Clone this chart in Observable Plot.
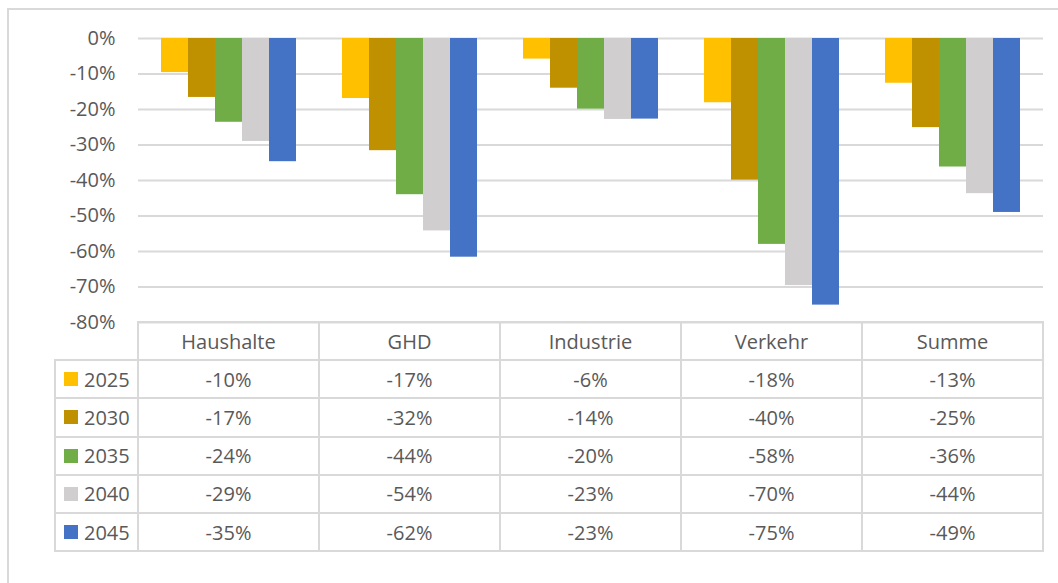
<!DOCTYPE html>
<html>
<head>
<meta charset="utf-8">
<script src="https://cdn.jsdelivr.net/npm/d3@7"></script>
<script src="https://cdn.jsdelivr.net/npm/@observablehq/plot@0.6"></script>
<style>
  html, body { margin: 0; padding: 0; background: #fff; overflow: hidden; }
  #root { position: relative; width: 1058px; height: 583px; font-family: "Open Sans", sans-serif; color: #595959; }
  #root svg { position: absolute; left: 0; top: 0; }
  .frame { position: absolute; left: 7px; top: 8px; width: 1200px; height: 800px;
           border-left: 2px solid #D9D9D9; border-top: 2px solid #D9D9D9; box-sizing: border-box; pointer-events: none; }
  .cell { position: absolute; box-sizing: border-box; border: 2px solid #D9D9D9;
          display: flex; align-items: center; justify-content: center; font-size: 20px; color: #595959; white-space: nowrap; }
  .cell.leg { justify-content: flex-start; padding-left: 8px; }
  .sw { width: 14px; height: 14px; margin-right: 6px; display: inline-block; }
</style>
</head>
<body>
<div id="root"></div>
<script>
// ---- data ----
const categories = ["Haushalte", "GHD", "Industrie", "Verkehr", "Summe"];
const years = ["2025", "2030", "2035", "2040", "2045"];
const colors = ["#FFC000", "#BF9000", "#70AD47", "#D0CECE", "#4472C4"];
const v2025 = [-0.096, -0.169, -0.058, -0.181, -0.126];
const v2030 = [-0.166, -0.316, -0.140, -0.399, -0.251];
const v2035 = [-0.236, -0.440, -0.199, -0.580, -0.362];
const v2040 = [-0.290, -0.542, -0.228, -0.696, -0.437];
const v2045 = [-0.347, -0.616, -0.227, -0.751, -0.490];
const yTicks = [0, -0.1, -0.2, -0.3, -0.4, -0.5, -0.6, -0.7, -0.8];

const series = [v2025, v2030, v2035, v2040, v2045];
const data = [];
years.forEach((yr, i) => categories.forEach((c, j) => data.push({category: c, year: yr, value: series[i][j]})));

const pct = d => Math.round(d * 100) + "%";

const W = 1058, mL = 138, mR = 15, mT = 38, H = 345, mB = 23;

const chart = Plot.plot({
  width: W, height: H,
  marginLeft: mL, marginRight: mR, marginTop: mT, marginBottom: mB,
  style: { fontFamily: "Open Sans, sans-serif", fontSize: "20px", color: "#595959", background: "transparent", overflow: "visible" },
  facet: { data, x: "category" },
  fx: { domain: categories, padding: 0, axis: null },
  x: { domain: years, paddingInner: 0, paddingOuter: 0.75, align: 0.5, axis: null },
  y: { domain: [-0.8, 0], ticks: yTicks, tickFormat: pct, tickSize: 0, tickPadding: 23, label: null },
  color: { domain: years, range: colors },
  marks: [
    Plot.ruleY(yTicks, { stroke: "#D9D9D9", strokeWidth: 2 }),
    Plot.barY(data, { x: "year", y1: 0, y2: "value", fill: "year", inset: 0 })
  ]
});
const root = document.getElementById("root");
root.appendChild(chart);

// ---- data table below the chart ----
const colW = (W - mL - mR) / categories.length;
const xs = [55, ...d3.range(categories.length + 1).map(i => mL + i * colW)];
const yTop = H - mB;
const rowH = 38.2;
const ys = d3.range(years.length + 2).map(i => yTop + i * rowH);

function cell(x0, y0, x1, y1, cls) {
  const d = document.createElement("div");
  d.className = "cell" + (cls ? " " + cls : "");
  d.style.left = (x0 - 1) + "px";
  d.style.top = (y0 - 1) + "px";
  d.style.width = (x1 - x0 + 2) + "px";
  d.style.height = (y1 - y0 + 2) + "px";
  root.appendChild(d);
  return d;
}
categories.forEach((c, j) => { cell(xs[j + 1], ys[0], xs[j + 2], ys[1]).textContent = c; });
years.forEach((yr, i) => {
  const lc = cell(xs[0], ys[i + 1], xs[1], ys[i + 2], "leg");
  const sw = document.createElement("span");
  sw.className = "sw"; sw.style.background = colors[i];
  lc.appendChild(sw);
  lc.appendChild(document.createTextNode(yr));
  categories.forEach((c, j) => { cell(xs[j + 1], ys[i + 1], xs[j + 2], ys[i + 2]).textContent = pct(series[i][j]); });
});

const fr = document.createElement("div");
fr.className = "frame";
root.appendChild(fr);
</script>
</body>
</html>
